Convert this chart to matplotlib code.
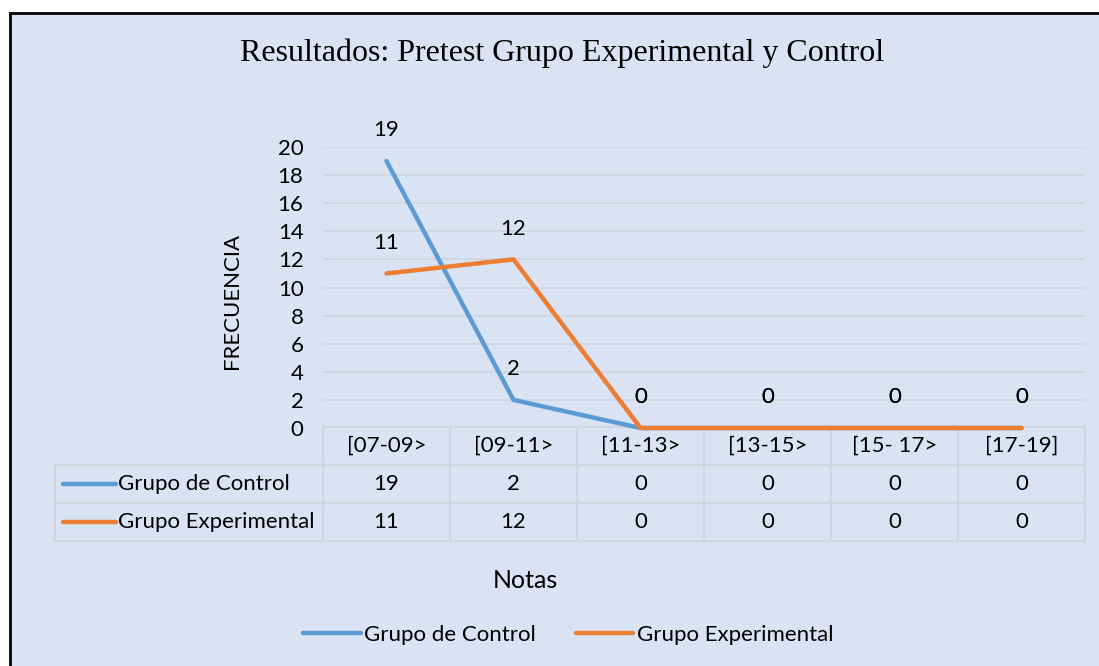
import matplotlib
matplotlib.use("Agg")
import matplotlib.pyplot as plt
from matplotlib.patches import Rectangle
from matplotlib.lines import Line2D

# --- datos ---
categorias = ["[07-09>", "[09-11>", "[11-13>", "[13-15>", "[15- 17>", "[17-19]"]
control = [19, 2, 0, 0, 0, 0]
experimental = [11, 12, 0, 0, 0, 0]
series_nombres = ["Grupo de Control", "Grupo Experimental"]
yticks = list(range(0, 21, 2))

azul = "#5B9BD5"
naranja = "#ED7D31"
fondo = "#DAE3F3"
rejilla = "#D0D5DD"
fs = 16

plt.rcParams['font.family'] = ['Lato', 'DejaVu Sans']

W, H = 1099, 666
fig = plt.figure(figsize=(W / 100, H / 100), dpi=100, facecolor="white")

def fx(px):
    return px / W

def fy(py):
    return 1 - py / H

# caja de fondo con borde negro
fig.patches.append(Rectangle((fx(10), fy(H + 5)), 1.1, fy(13) - fy(H + 5),
                             transform=fig.transFigure, facecolor=fondo,
                             edgecolor="black", linewidth=2, zorder=-10))

# --- gráfico principal ---
x0, x1, ytop, ybot = 323, 1085, 147, 428
ax = fig.add_axes([fx(x0), fy(ybot), fx(x1 - x0), fy(ytop) - fy(ybot)])
ax.set_facecolor("none")
x = list(range(len(categorias)))
ax.plot(x, control, color=azul, linewidth=3.2, solid_capstyle="round", zorder=3, clip_on=False)
ax.plot(x, experimental, color=naranja, linewidth=3.2, solid_capstyle="round", zorder=4, clip_on=False)
for serie in (control, experimental):
    for xi, v in zip(x, serie):
        ax.annotate(str(v), (xi, v), xytext=(0, 22), textcoords="offset points",
                    ha="center", va="center", fontsize=fs, color="black")
ax.set_xlim(-0.5, len(categorias) - 0.5)
ax.set_ylim(0, 20)
ax.set_yticks(yticks)
ax.set_xticks([])
ax.tick_params(axis="y", length=0, pad=14, labelsize=fs)
for s in ax.spines.values():
    s.set_visible(False)
ax.grid(axis="y", color=rejilla, linewidth=1.2)
ax.set_axisbelow(True)

# --- tabla de datos ---
col_w = (x1 - x0) / len(categorias)
left_px = 55
extra = (x0 - left_px) / col_w
tab_top, tab_bot = 427, 541
tx = fig.add_axes([fx(left_px), fy(tab_bot), fx(x1 - left_px), fy(tab_top) - fy(tab_bot)])
tx.set_facecolor("none")
tx.set_zorder(-1)
tx.set_xlim(-0.5 - extra, len(categorias) - 0.5)
tx.set_ylim(3, 0)
tx.axis("off")
xl = -0.5 - extra
xr = len(categorias) - 0.5
tx.plot([-0.5, xr], [0, 0], color=rejilla, lw=1.5, clip_on=False)
for r in (1, 2, 3):
    tx.plot([xl, xr], [r, r], color=rejilla, lw=1.5, clip_on=False)
tx.plot([xl, xl], [1, 3], color=rejilla, lw=1.5, clip_on=False)
for c in range(len(categorias) + 1):
    tx.plot([c - 0.5, c - 0.5], [0, 3], color=rejilla, lw=1.5, clip_on=False)
for i, cat in enumerate(categorias):
    tx.text(i, 0.5, cat, ha="center", va="center", fontsize=fs)
for r, (nombre, vals, col) in enumerate(zip(series_nombres, [control, experimental], [azul, naranja]), start=1):
    for i, v in enumerate(vals):
        tx.text(i, r + 0.5, str(v), ha="center", va="center", fontsize=fs)
    tx.plot([xl + 0.06, xl + 0.48], [r + 0.5, r + 0.5], color=col, lw=3.2, solid_capstyle="round")
    tx.text(xl + 0.5, r + 0.5, nombre, ha="left", va="center", fontsize=fs)

# --- textos ---
fig.text(fx(562), fy(53), "Resultados: Pretest Grupo Experimental y Control",
         ha="center", va="center", fontsize=23, family=["Liberation Serif", "DejaVu Serif"])
fig.text(fx(232), fy(301), "FRECUENCIA", rotation=90, ha="center", va="center", fontsize=fs)
fig.text(fx(525), fy(581), "Notas", ha="center", va="center", fontsize=18)

# leyenda inferior
handles = [Line2D([], [], color=azul, lw=3.2, solid_capstyle="round"),
           Line2D([], [], color=naranja, lw=3.2, solid_capstyle="round")]
fig.legend(handles, series_nombres, loc="center", bbox_to_anchor=(fx(568), fy(635)),
           ncol=2, frameon=False, fontsize=fs, handlelength=2.6, handletextpad=0.15,
           columnspacing=1.8)

fig.savefig("out.png", dpi=100, facecolor="white")
